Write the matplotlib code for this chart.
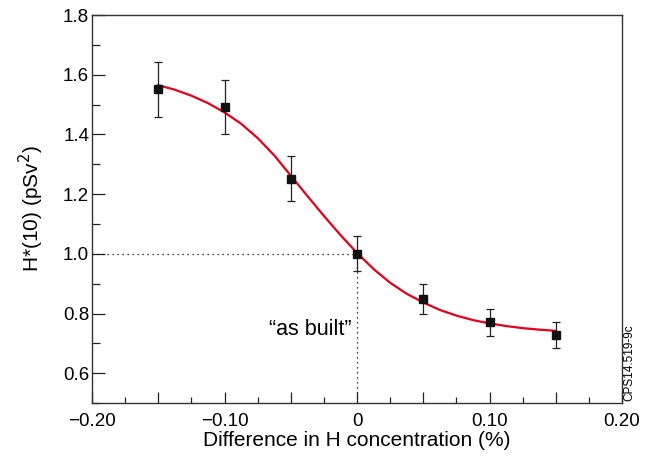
import matplotlib

matplotlib.use("Agg")
import matplotlib.pyplot as plt
from matplotlib.ticker import FixedLocator, MultipleLocator, FuncFormatter

plt.rcParams["font.family"] = ["Liberation Sans", "DejaVu Sans"]

# measured points
conc = [-0.15, -0.10, -0.05, 0.0, 0.05, 0.10, 0.15]
dose = [1.551, 1.491, 1.252, 1.001, 0.850, 0.770, 0.729]
dose_err = [0.093, 0.090, 0.075, 0.060, 0.050, 0.046, 0.044]

# fitted curve
fit_x = [-0.15, -0.1375, -0.125, -0.1125, -0.10, -0.0875, -0.075, -0.0625,
         -0.05, -0.0375, -0.025, -0.0125, 0.0, 0.0125, 0.025, 0.0375,
         0.05, 0.0625, 0.075, 0.0875, 0.10, 0.1125, 0.125, 0.1375, 0.15]
fit_y = [1.565, 1.550, 1.530, 1.505, 1.474, 1.436, 1.388, 1.330,
         1.262, 1.194, 1.127, 1.063, 1.003, 0.949, 0.903, 0.866,
         0.837, 0.812, 0.793, 0.778, 0.767, 0.758, 0.751, 0.746, 0.742]

x_labels = {-0.2: "\u22120.20", -0.1: "\u22120.10", 0.0: "0", 0.1: "0.10", 0.2: "0.20"}

fig = plt.figure(figsize=(6.48, 4.58), dpi=100)
ax = fig.add_axes([0.142, 0.120, 0.818, 0.847])

ax.plot([-0.2, 0.0], [1.0, 1.0], color="black", lw=0.9, ls=(0, (1, 3)), zorder=1)
ax.plot([0.0, 0.0], [0.5, 1.0], color="black", lw=0.9, ls=(0, (1, 3)), zorder=1)

ax.plot(fit_x, fit_y, color="#e2001a", lw=1.6, zorder=3)
ax.errorbar(conc, dose, yerr=dose_err, fmt="s", color="#111111", ms=6,
            ecolor="#222222", elinewidth=0.9, capsize=3, capthick=0.9, zorder=4)

ax.text(-0.004, 0.745, "\u201cas built\u201d", ha="right", va="center", fontsize=15.5)

ax.set_xlim(-0.2, 0.2)
ax.set_ylim(0.5, 1.8)

ax.xaxis.set_major_locator(MultipleLocator(0.05))
ax.xaxis.set_minor_locator(MultipleLocator(0.025))
ax.xaxis.set_major_formatter(FuncFormatter(
    lambda v, pos: x_labels.get(round(v, 2), "")))
ax.yaxis.set_major_locator(FixedLocator([0.6, 0.8, 1.0, 1.2, 1.4, 1.6, 1.8]))
ax.yaxis.set_minor_locator(MultipleLocator(0.1))
ax.yaxis.set_major_formatter(FuncFormatter(lambda v, pos: f"{v:.1f}"))

ax.tick_params(which="both", direction="in", top=False, right=False,
               labelsize=13.5, width=0.9, color="#222222")
ax.tick_params(axis="x", which="major", length=8, pad=7)
ax.tick_params(axis="x", which="minor", length=4.5)
ax.tick_params(axis="y", which="major", length=9, pad=2)
ax.tick_params(axis="y", which="minor", length=6)

for side in ax.spines.values():
    side.set_linewidth(1.0)
    side.set_color("#333333")

ax.set_xlabel("Difference in H concentration (%)", fontsize=15, labelpad=1)
ax.set_ylabel("H*(10) (pSv$^2$)", fontsize=15, labelpad=12)

fig.text(0.972, 0.1245, "CPS14.519-9c", rotation=90, ha="center", va="bottom",
         fontsize=8.5)

fig.savefig("out.png", dpi=100)
